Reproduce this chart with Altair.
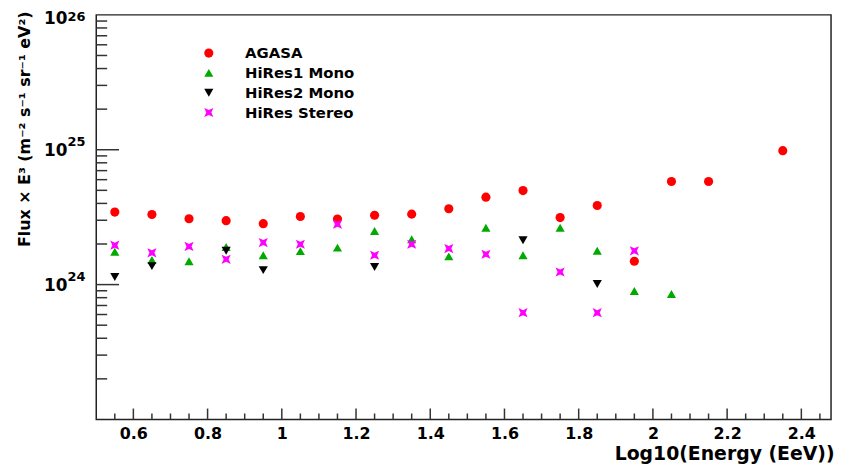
import altair as alt
import pandas as pd

# ---- data ----
agasa_x = [0.55, 0.65, 0.75, 0.85, 0.95, 1.05, 1.15, 1.25, 1.35, 1.45, 1.55, 1.65, 1.75, 1.85, 1.95, 2.05, 2.15, 2.35]
agasa_y = [3.45e24, 3.31e24, 3.08e24, 2.98e24, 2.83e24, 3.20e24, 3.06e24, 3.27e24, 3.33e24, 3.65e24,
           4.45e24, 4.98e24, 3.14e24, 3.86e24, 1.49e24, 5.81e24, 5.81e24, 9.84e24]

hires1_x = [0.55, 0.65, 0.75, 0.85, 0.95, 1.05, 1.15, 1.25, 1.35, 1.45, 1.55, 1.65, 1.75, 1.85, 1.95, 2.05]
hires1_y = [1.75e24, 1.52e24, 1.49e24, 1.90e24, 1.65e24, 1.77e24, 1.88e24, 2.50e24, 2.17e24, 1.62e24,
            2.64e24, 1.65e24, 2.64e24, 1.78e24, 8.96e23, 8.51e23]

hires2_x = [0.55, 0.65, 0.85, 0.95, 1.25, 1.65, 1.85]
hires2_y = [1.14e24, 1.37e24, 1.78e24, 1.28e24, 1.35e24, 2.13e24, 1.01e24]

stereo_x = [0.55, 0.65, 0.75, 0.85, 0.95, 1.05, 1.15, 1.25, 1.35, 1.45, 1.55, 1.65, 1.75, 1.85, 1.95]
stereo_y = [1.96e24, 1.72e24, 1.92e24, 1.54e24, 2.05e24, 1.99e24, 2.80e24, 1.65e24, 1.99e24, 1.85e24,
            1.68e24, 6.19e23, 1.24e24, 6.19e23, 1.78e24]

series_names = ["AGASA", "HiRes1 Mono", "HiRes2 Mono", "HiRes Stereo"]
series_colors = ["#ff0000", "#00aa00", "#000000", "#ff00ff"]
star_path = "M-1,-1L0,-0.55L1,-1L0.55,0L1,1L0,0.55L-1,1L-0.55,0Z"
series_shapes = ["circle", "triangle-up", "triangle-down", star_path]

x_major = [0.6, 0.8, 1.0, 1.2, 1.4, 1.6, 1.8, 2.0, 2.2, 2.4]
x_minor = [0.55, 0.65, 0.7, 0.75, 0.85, 0.9, 0.95, 1.05, 1.1, 1.15, 1.25, 1.3, 1.35, 1.45, 1.5, 1.55,
           1.65, 1.7, 1.75, 1.85, 1.9, 1.95, 2.05, 2.1, 2.15, 2.25, 2.3, 2.35, 2.45]
y_major = [1e24, 1e25]
y_minor = [m * 10 ** d for d in (23, 24, 25) for m in range(2, 10)]
y_labels = [1e24, 1e25, 1e26]
y_bases = ["10", "10", "10"]
y_exponents = ["24", "25", "26"]

FONT = "DejaVu Sans"
W, H = 741, 408

rows = []
for name, xs, ys in [("AGASA", agasa_x, agasa_y), ("HiRes1 Mono", hires1_x, hires1_y),
                     ("HiRes2 Mono", hires2_x, hires2_y), ("HiRes Stereo", stereo_x, stereo_y)]:
    for a, b in zip(xs, ys):
        rows.append({"series": name, "x": a, "y": b})
df = pd.DataFrame(rows)

xscale = alt.Scale(domain=[0.5, 2.48], nice=False, zero=False)
yscale = alt.Scale(type="log", domain=[1e23, 1e26], nice=False)

xaxis = alt.Axis(
    values=x_major, format="~g", ticks=False, tickSize=0, domain=False, grid=False,
    labelFont=FONT, labelFontWeight="bold", labelFontSize=16, labelColor="black",
    labelPadding=6, labelFlush=False, labelOverlap=False,
    title="Log10(Energy (EeV))", titleFont=FONT, titleFontWeight="bold", titleFontSize=19,
    titleColor="black", titleAlign="right", titleAnchor="end", titleX=W + 3, titleY=34,
    titleBaseline="middle")
yaxis = alt.Axis(
    values=y_labels, labels=False, ticks=False, tickSize=0, domain=False, grid=False,
    title="Flux × E³ (m⁻² s⁻¹ sr⁻¹ eV²)", titleFont=FONT, titleFontWeight="bold",
    titleFontSize=16, titleColor="black", titleAngle=-90, titleAlign="right",
    titleBaseline="middle", titleX=-72, titleY=-4)

X = alt.X("x:Q", scale=xscale, axis=xaxis)
Y = alt.Y("y:Q", scale=yscale, axis=yaxis)

legend = alt.Legend(title=None, orient="none", legendX=106, legendY=31, padding=0,
                    labelFont=FONT, labelFontWeight="bold", labelFontSize=15, labelColor="black",
                    labelOffset=29, rowPadding=4, symbolSize=85, symbolStrokeWidth=0)

points = alt.Chart(df).mark_point(filled=True, size=85, opacity=1).encode(
    x=X, y=Y,
    color=alt.Color("series:N", scale=alt.Scale(domain=series_names, range=series_colors), legend=legend),
    shape=alt.Shape("series:N", scale=alt.Scale(domain=series_names, range=series_shapes), legend=legend),
)

tick_color = "#333333"
xmaj = alt.Chart(pd.DataFrame({"x": x_major})).mark_rule(color=tick_color, strokeWidth=1.5).encode(
    x=X, y=alt.value(H), y2=alt.value(H - 11))
xmin = alt.Chart(pd.DataFrame({"x": x_minor})).mark_rule(color=tick_color, strokeWidth=1.5).encode(
    x=X, y=alt.value(H), y2=alt.value(H - 6))
ymaj = alt.Chart(pd.DataFrame({"y": y_major})).mark_rule(color=tick_color, strokeWidth=1.5).encode(
    y=Y, x=alt.value(0), x2=alt.value(23))
ymin = alt.Chart(pd.DataFrame({"y": y_minor})).mark_rule(color=tick_color, strokeWidth=1.5).encode(
    y=Y, x=alt.value(0), x2=alt.value(11))

lab_df = pd.DataFrame({"y": y_labels, "b": y_bases, "e": y_exponents})
base_style = dict(align="right", baseline="middle", font=FONT, fontWeight="bold", fontSize=17, color="black")
exp_style = dict(align="left", baseline="middle", font=FONT, fontWeight="bold", fontSize=13, color="black")
bases_low = alt.Chart(lab_df.iloc[:2]).mark_text(dy=1, **base_style).encode(
    y=Y, x=alt.value(-29), text="b:N")
bases_top = alt.Chart(lab_df.iloc[2:]).mark_text(dy=4, **base_style).encode(
    y=Y, x=alt.value(-29), text="b:N")
exps_low = alt.Chart(lab_df.iloc[:2]).mark_text(dy=-8, **exp_style).encode(
    y=Y, x=alt.value(-29), text="e:N")
exps_top = alt.Chart(lab_df.iloc[2:]).mark_text(dy=2, **exp_style).encode(
    y=Y, x=alt.value(-29), text="e:N")

chart = alt.layer(points, xmin, xmaj, ymin, ymaj, bases_low, bases_top, exps_low, exps_top).properties(
    width=W, height=H,
    background="white",
    autosize=alt.AutoSizeParams(type="none"),
    padding={"left": 89, "top": 5, "right": 4, "bottom": 45},
).configure_view(stroke="#222222", strokeWidth=1.5)

chart.save("out.html", embed_options={"renderer": "svg", "actions": False})
